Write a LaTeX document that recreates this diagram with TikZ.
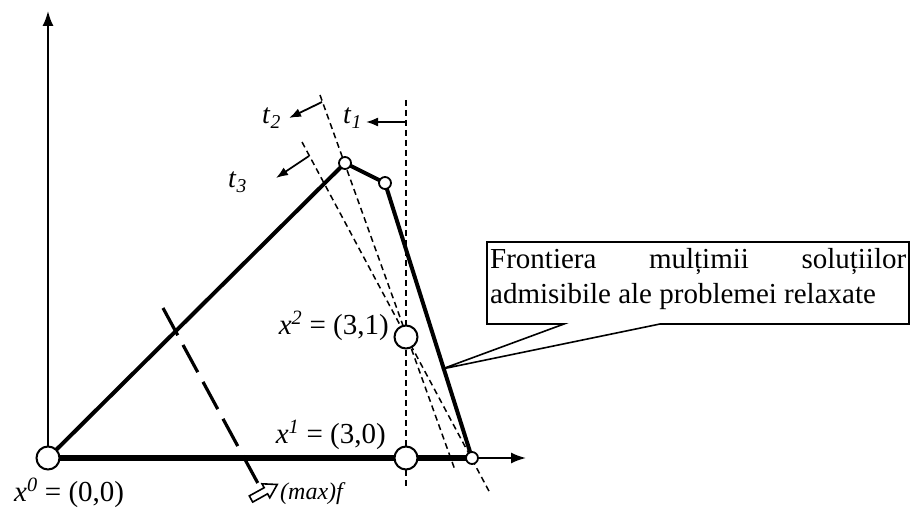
\documentclass[tikz,border=0pt]{standalone}
\usepackage{fontspec}
\setmainfont{Liberation Serif}
\usetikzlibrary{arrows.meta}
\begin{document}
\begin{tikzpicture}[x=1pt,y=-1pt,
  edge/.style={line width=4pt, line join=round},
  baseedge/.style={line width=6pt},
  dsh/.style={line width=1.5pt, dash pattern=on 6pt off 4pt},
  dir/.style={line width=1.8pt, -{Latex[length=12pt,width=9pt]}},
  axisdir/.style={line width=1.8pt, -{Latex[length=15pt,width=11pt]}},
  bigpt/.style={circle, draw, fill=white, line width=2pt, minimum size=23pt, inner sep=0pt},
  smallpt/.style={circle, draw, fill=white, line width=1.8pt, minimum size=12pt, inner sep=0pt},
  boxtxt/.style={font=\fontsize{29}{34}\selectfont, inner sep=0pt},
  lbl/.style={font=\fontsize{29}{34}\selectfont, inner sep=0pt},
  tlbl/.style={font=\fontsize{28}{32}\selectfont, inner sep=0pt},
  slbl/.style={font=\fontsize{24}{28}\selectfont, inner sep=0pt},
]
\useasboundingbox (0,0) rectangle (914,508);

% key points
\coordinate (O) at (48,458);
\coordinate (V1) at (345,163);
\coordinate (V2) at (385,183);
\coordinate (V3) at (472,458);
\coordinate (X1) at (406,458);
\coordinate (X2) at (406,337);
\coordinate (yend) at (48,11);
\coordinate (xend) at (526,458);

% level lines
\coordinate (t1a) at (406,100);
\coordinate (t1b) at (406,487);
\coordinate (t2a) at (320,95);
\coordinate (t2b) at (455,470);
\coordinate (t3a) at (302,142);
\coordinate (t3b) at (490,493);
\draw[dsh] (t1a) -- (t1b);
\draw[dsh] (t2a) -- (t2b);
\draw[dsh] (t3a) -- (t3b);

% direction arrows of level lines
\coordinate (a1s) at (406,122);
\coordinate (a1e) at (366,122);
\coordinate (a2s) at (322,102);
\coordinate (a2e) at (289,118);
\coordinate (a3s) at (309,156);
\coordinate (a3e) at (276,178);
\draw[dir] (a1s) -- (a1e);
\draw[dir] (a2s) -- (a2e);
\draw[dir] (a3s) -- (a3e);

% objective level line and gradient arrow
\coordinate (fa) at (163,308);
\coordinate (fb) at (261,489);
\draw[line width=3.2pt, dash pattern=on 31pt off 11pt] (fa) -- (fb);
\draw[line width=1.6pt, fill=white, line join=miter]
  (249.3,495.9) -- (264.2,487.7) -- (262.0,483.8) -- (277.2,484.5)
  -- (269.8,497.8) -- (267.6,493.8) -- (252.7,502.1) -- cycle;

% axes
\draw[axisdir] (O) -- (yend);
\draw[axisdir] (V3) -- (xend);

% feasible region boundary
\draw[edge] (O) -- (V1) -- (V2) -- (V3);
\draw[baseedge] (O) -- (V3);

% points
\node[bigpt] (p0) at (O) {};
\node[bigpt] (p1) at (X1) {};
\node[bigpt] (p2) at (X2) {};
\node[smallpt] (q1) at (V1) {};
\node[smallpt] (q2) at (V2) {};
\node[smallpt] (q3) at (V3) {};

% callout
\coordinate (ctip) at (442,369);
\draw[line width=1.6pt, fill=white]
  (487,242) -- (909,242) -- (909,324) -- (660,324) -- (ctip) -- (564,324) -- (487,324) -- cycle;
\node[boxtxt, anchor=base west] (c1) at (490,269) {\makebox[416pt][s]{Frontiera mulțimii soluțiilor}};
\node[boxtxt, anchor=base west] (c2) at (490,303) {admisibile ale problemei relaxate};

% labels
\node[lbl, anchor=base west] (l0) at (14,501) {\textit{x}\textsuperscript{\textit{0}} = (0,0)};
\node[lbl, anchor=base east] (l1) at (386,443) {\textit{x}\textsuperscript{\textit{1}} = (3,0)};
\node[lbl, anchor=base east] (l2) at (389,334) {\textit{x}\textsuperscript{\textit{2}} = (3,1)};
\node[tlbl, anchor=base west] (lt1) at (343,124) {\textit{t}\textsubscript{\textit{1}}};
\node[tlbl, anchor=base west] (lt2) at (262,124) {\textit{t}\textsubscript{\textit{2}}};
\node[tlbl, anchor=base west] (lt3) at (228,188) {\textit{t}\textsubscript{\textit{3}}};
\node[slbl, anchor=base west] (lf) at (280,499) {\textit{(max)f}};
\end{tikzpicture}
\end{document}
